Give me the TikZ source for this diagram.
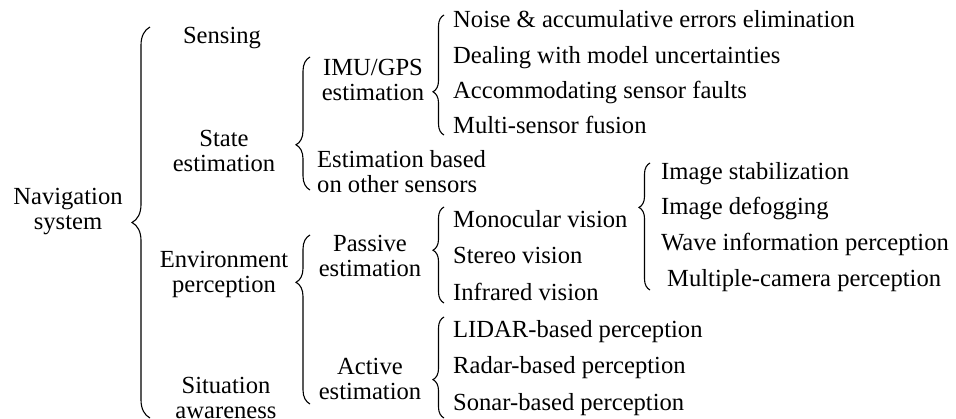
\documentclass[tikz,border=0pt]{standalone}
\usepackage{fontspec}
\setmainfont{Liberation Serif}
\usetikzlibrary{decorations.pathreplacing,positioning}

\begin{document}
\begin{tikzpicture}[x=1pt,y=-1pt,% pixel grid, y downwards
        every node/.style={font=\fontsize{24.6}{25}\selectfont,inner sep=0pt},
        leaf/.style={anchor=west,text height=16pt,text depth=5pt},
        topic/.style={align=center},
        curly/.style={decorate,decoration={brace,amplitude=#1},line width=1.1pt}]
\useasboundingbox (0,0) rectangle (956,418);

% first level
\node[topic] (nav) at (68,212) {Navigation\\system};
\node[topic] (sensing) at (222,38) {Sensing};
\node[topic] (state) at (224,151) {State\\estimation};
\node[topic] (env) at (224,274) {Environment\\perception};
\node[topic] (situation) at (226,398) {Situation\\awareness};

% second level
\node[topic] (imu) at (373,80) {IMU/GPS\\estimation};
\node[align=left,anchor=west] (other) at (317,172) {Estimation based\\on other sensors};
\node[topic] (passive) at (370,256) {Passive\\estimation};
\node[topic] (active) at (370,379) {Active\\estimation};

% leaves
\foreach[count=\i] \t/\y in {Noise \& accumulative errors elimination/22,
        Dealing with model uncertainties/58,Accommodating sensor faults/93,
        Multi-sensor fusion/128}{
\node[leaf] (imu-\i) at (453,\y) {\t};
}
\foreach[count=\i] \t/\y in {Monocular vision/222,Stereo vision/258,Infrared vision/295}{
\node[leaf] (passive-\i) at (453,\y) {\t};
}
\foreach[count=\i] \t/\y in {LIDAR-based perception/332,Radar-based perception/368,
        Sonar-based perception/405}{
\node[leaf] (active-\i) at (453,\y) {\t};
}
\foreach[count=\i] \t/\y in {Image stabilization/174,Image defogging/209,
        Wave information perception/245}{
\node[leaf] (mono-\i) at (661,\y) {\t};
}
\node[leaf] (mono-4) at (667,281) {Multiple-camera perception};

% brace ends
\coordinate (nav-t) at (150,27);   \coordinate (nav-b) at (150,418);
\coordinate (state-t) at (310,57);  \coordinate (state-b) at (310,190);
\coordinate (env-t) at (310,235);   \coordinate (env-b) at (310,404);
\coordinate (imu-t) at (444,15);    \coordinate (imu-b) at (444,135);
\coordinate (passive-t) at (444,207); \coordinate (passive-b) at (444,303);
\coordinate (active-t) at (444,317); \coordinate (active-b) at (444,418);
\coordinate (mono-t) at (650,163);  \coordinate (mono-b) at (650,290);

\draw[curly=18pt] (nav-b) -- (nav-t);
\draw[curly=14pt,decoration={aspect=0.34}] (state-b) -- (state-t);
\draw[curly=14pt,decoration={aspect=0.72}] (env-b) -- (env-t);
\draw[curly=11pt,decoration={aspect=0.36}] (imu-b) -- (imu-t);
\draw[curly=11pt,decoration={aspect=0.55}] (passive-b) -- (passive-t);
\draw[curly=11pt,decoration={aspect=0.38}] (active-b) -- (active-t);
\draw[curly=11pt,decoration={aspect=0.65}] (mono-b) -- (mono-t);
\end{tikzpicture}
\end{document}
